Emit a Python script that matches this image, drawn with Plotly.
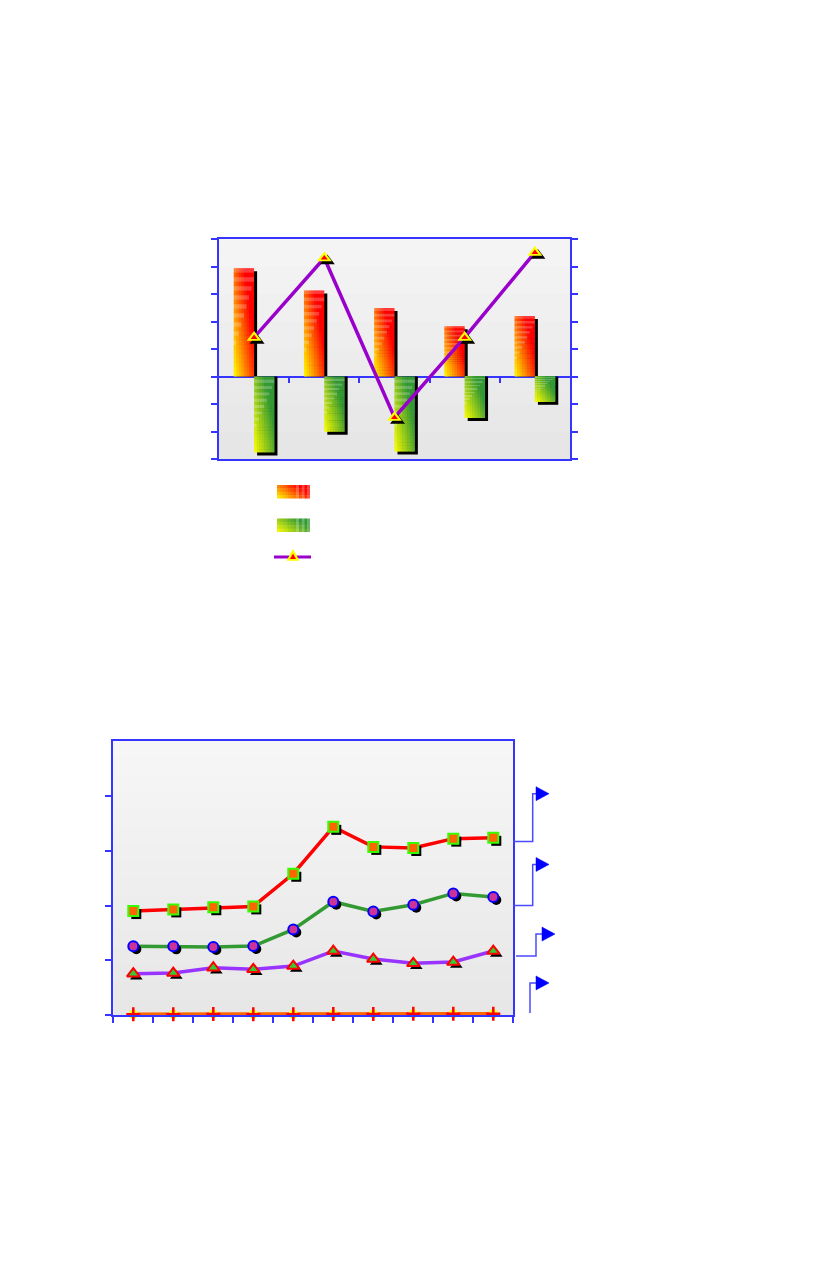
import plotly.graph_objects as go

W, H = 836, 1267

# ---------------- Chart 1 data ----------------
cats1 = [0, 1, 2, 3, 4]
pos_vals = [39.4, 31.3, 24.9, 18.3, 22.0]
neg_vals = [-27.6, -20.1, -27.3, -15.1, -9.2]
line_vals = [14.2, 43.1, -14.9, 14.2, 45.1]
y1_range = [-30, 50]

# ---------------- Chart 2 data ----------------
cats2 = list(range(10))
red_vals = [19.0, 19.3, 19.7, 19.85, 25.8, 34.35, 30.7, 30.5, 32.2, 32.35]
green_vals = [12.6, 12.57, 12.44, 12.62, 15.66, 20.7, 18.94, 20.15, 22.22, 21.55]
purple_vals = [7.58, 7.7, 8.67, 8.38, 8.98, 11.71, 10.25, 9.47, 9.71, 11.71]
orange_vals = [0.2, 0.2, 0.25, 0.2, 0.2, 0.25, 0.25, 0.3, 0.3, 0.3]
y2_range = [0, 50]
callout_from = [31.7, 20.0, 10.8, 0.4]
callout_to = [40.4, 27.5, 14.8, 5.9]

AX = "#3535ff"
SHIFT = 7  # page offset compensation


def px_x(p):
    return (p - SHIFT) / W


def px_y(p):
    return 1 - (p - SHIFT) / H


def mix(c1, c2, t):
    t = max(0.0, min(1.0, t))
    return tuple(a + (b - a) * t for a, b in zip(c1, c2))


def rgb(c):
    return "rgb(%d,%d,%d)" % tuple(round(v) for v in c)


YEL = (255, 255, 0)
RED = (255, 0, 0)
GRN = (51, 153, 51)
WHITE = (255, 255, 255)

x1dom = [px_x(218), px_x(569)]
y1dom = [px_y(458), px_y(238)]
x2dom = [px_x(112.3), px_x(512.3)]
y2dom = [px_y(1014.3), px_y(740)]

fig = go.Figure()

# ---------- Chart 1: bars ----------
BW = 0.29
OFF_POS = -0.29
OFF_NEG = 0.0
SX1 = 3 / 70.2
SY1 = 3 / 2.75
K, M = 8, 24

for vals, off in [(pos_vals, OFF_POS), (neg_vals, OFF_NEG)]:
    fig.add_bar(x=cats1, y=[v - SY1 for v in vals], base=0, offset=off + SX1, width=BW,
                marker=dict(color="black", line=dict(width=0)), xaxis="x", yaxis="y",
                hoverinfo="skip")

for vals, off, c_end, positive in [(pos_vals, OFF_POS, RED, True), (neg_vals, OFF_NEG, GRN, False)]:
    for i in range(K):
        xf = (i + 0.5) / K
        wd = BW / K * (1.25 if i < K - 1 else 1.0)
        for j in range(M):
            fr = (j + 0.5) / M
            yf = fr if positive else 1 - fr
            col = mix(YEL, c_end, 0.8 * xf + 0.6 * yf)
            if j % 2 == 1 and xf < (yf - 0.25) * 1.5:
                col = mix(col, WHITE, 0.22)
            scale = 1.15 if j < M - 1 else 1.0
            fig.add_bar(x=cats1, y=[v / M * scale for v in vals], base=[v * j / M for v in vals],
                        offset=off + i * BW / K, width=wd,
                        marker=dict(color=rgb(col), line=dict(width=0)), xaxis="x", yaxis="y",
                        hoverinfo="skip")

# ---------- Chart 1: line ----------
fig.add_scatter(x=cats1, y=line_vals, mode="lines", line=dict(color="#9900cc", width=3.5),
                xaxis="x", yaxis="y", hoverinfo="skip")
fig.add_scatter(x=[c + SX1 for c in cats1], y=[v - SY1 for v in line_vals], mode="markers",
                marker=dict(symbol="triangle-up", size=13, color="black"), xaxis="x", yaxis="y",
                cliponaxis=False, hoverinfo="skip")
fig.add_scatter(x=cats1, y=line_vals, mode="markers",
                marker=dict(symbol="triangle-up", size=13, color="#ffff00"), xaxis="x", yaxis="y",
                cliponaxis=False, hoverinfo="skip")
fig.add_scatter(x=cats1, y=line_vals, mode="markers",
                marker=dict(symbol="triangle-up", size=6, color="#ff0000"), xaxis="x", yaxis="y",
                cliponaxis=False, hoverinfo="skip")
# dummy trace for the zero-line tick axis
fig.add_scatter(x=[0], y=[0], mode="markers", marker=dict(opacity=0), xaxis="x3", yaxis="y",
                hoverinfo="skip")

# ---------- Chart 2 ----------
SX2 = 3 / 40
SY2 = 3 / 5.486
series2 = [
    (red_vals, "#ff0000", dict(symbol="square", size=10, color="#ff6600", line=dict(color="#33ff00", width=2))),
    (green_vals, "#339933", dict(symbol="circle", size=10, color="#cc3399", line=dict(color="#0000ff", width=2))),
    (purple_vals, "#9933ff", dict(symbol="triangle-up", size=11, color="#33cc33", line=dict(color="#ff0000", width=2))),
    (orange_vals, "#ff6600", dict(symbol="circle", size=9, color="#ffff00", line=dict(width=0))),
]
for vals, lc, mk in series2:
    fig.add_scatter(x=cats2, y=vals, mode="lines", line=dict(color=lc, width=3.5),
                    xaxis="x2", yaxis="y2", hoverinfo="skip", cliponaxis=False)
    fig.add_scatter(x=[c + SX2 for c in cats2], y=[v - SY2 for v in vals], mode="markers",
                    marker=dict(symbol=mk["symbol"], size=mk["size"], color="black"),
                    xaxis="x2", yaxis="y2", hoverinfo="skip", cliponaxis=False)
    fig.add_scatter(x=cats2, y=vals, mode="markers", marker=mk,
                    xaxis="x2", yaxis="y2", hoverinfo="skip", cliponaxis=False)
fig.add_scatter(x=cats2, y=orange_vals, mode="markers",
                marker=dict(symbol="cross-thin-open", size=10, color="#ff0000",
                            line=dict(color="#ff0000", width=2.5)),
                xaxis="x2", yaxis="y2", hoverinfo="skip", cliponaxis=False)

# ---------- shapes ----------
shapes = []
NB = 16
for xr, yr, top, bot in [("x domain", "y domain", 245, 229), ("x2 domain", "y2 domain", 246, 231)]:
    for k in range(NB):
        g = round(bot + (top - bot) * (k + 0.5) / NB)
        shapes.append(dict(type="rect", xref=xr, yref=yr, x0=0, x1=1, y0=k / NB, y1=(k + 1) / NB,
                           fillcolor="rgb(%d,%d,%d)" % (g, g, g), line=dict(width=0), layer="below"))

# callouts on chart 2
pxu = 1 / 400.0
unit = 1 / 5.486
callout_geom = [  # (start x px offset, elbow x px offset, arrow start px offset)
    (0, 19.4, 22.7),
    (0, 19.4, 22.7),
    (2.7, 22.7, 28.7),
    (None, 16.7, 22.7),
]
for (sx, ex, ax), yf, yt in zip(callout_geom, callout_from, callout_to):
    if sx is None:
        path = "M%f,%f L%f,%f L%f,%f" % (1 + ex * pxu, yf, 1 + ex * pxu, yt, 1 + ax * pxu, yt)
    else:
        path = "M%f,%f L%f,%f L%f,%f L%f,%f" % (1 + sx * pxu, yf, 1 + ex * pxu, yf,
                                                1 + ex * pxu, yt, 1 + ax * pxu, yt)
    shapes.append(dict(type="path", xref="x2 domain", yref="y2", path=path,
                       line=dict(color="#4a4aff", width=1.5)))
    tri = "M%f,%f L%f,%f L%f,%f Z" % (1 + ax * pxu, yt + 7 * unit, 1 + (ax + 13) * pxu, yt,
                                      1 + ax * pxu, yt - 7 * unit)
    shapes.append(dict(type="path", xref="x2 domain", yref="y2", path=tri,
                       fillcolor="#0000ff", line=dict(color="#0000ff", width=0.5)))


# legend swatches (chart 1)
def swatch(x0, y0, x1, y1, c_end):
    nc, nr = 12, 4
    for i in range(nc):
        for j in range(nr):
            xf = (i + 0.5) / nc
            yf = 1 - (j + 0.5) / nr
            col = mix(YEL, c_end, 0.85 * xf + 0.5 * yf)
            if i >= nc - 5 and i % 2 == 1:
                col = mix(col, WHITE, 0.25)
            xa = x0 + (x1 - x0) * i / nc
            xb = x0 + (x1 - x0) * (i + 1) / nc + 0.4
            ya = y0 + (y1 - y0) * j / nr
            yb = y0 + (y1 - y0) * (j + 1) / nr + 0.4
            shapes.append(dict(type="rect", xref="paper", yref="paper",
                               x0=px_x(xa), x1=px_x(min(xb, x1)), y0=px_y(ya), y1=px_y(min(yb, y1)),
                               fillcolor=rgb(col), line=dict(width=0)))


swatch(276, 484, 309, 497.5, RED)
swatch(276, 517.5, 309, 531, GRN)
shapes.append(dict(type="line", xref="paper", yref="paper", x0=px_x(273), x1=px_x(310),
                   y0=px_y(556), y1=px_y(556), line=dict(color="#9900cc", width=3)))


def tri_path(cx, cy, r):
    pts = [(cx - r, cy + r * 0.8), (cx, cy - r * 1.0), (cx + r, cy + r * 0.8)]
    return "M" + " L".join("%f,%f" % (px_x(a), px_y(b)) for a, b in pts) + " Z"


shapes.append(dict(type="path", xref="paper", yref="paper", path=tri_path(292, 554.5, 6.5),
                   fillcolor="#ffff00", line=dict(width=0)))
shapes.append(dict(type="path", xref="paper", yref="paper", path=tri_path(292, 555.5, 3),
                   fillcolor="#ff0000", line=dict(width=0)))

zero_pos = y1dom[0] + (0 - y1_range[0]) / (y1_range[1] - y1_range[0]) * (y1dom[1] - y1dom[0])

common = dict(showgrid=False, showticklabels=False, tickcolor=AX)
fig.update_layout(
    width=W, height=H, margin=dict(l=0, r=0, t=0, b=0),
    paper_bgcolor="white", plot_bgcolor="#eeeeee",
    showlegend=False, barmode="overlay", hovermode=False,
    shapes=shapes,
    xaxis=dict(domain=x1dom, anchor="y", range=[-0.5, 4.5], showline=True, linecolor=AX,
               linewidth=2, mirror=True, zeroline=False, ticks="", **common),
    yaxis=dict(domain=y1dom, anchor="x", range=y1_range, tickvals=list(range(-30, 51, 10)),
               ticks="outside", ticklen=6, tickwidth=2, showline=True, linecolor=AX, linewidth=2,
               mirror="ticks", zeroline=True, zerolinecolor=AX, zerolinewidth=2, **common),
    xaxis3=dict(overlaying="x", anchor="free", position=zero_pos, range=[-0.5, 4.5],
                tickvals=[0.5, 1.5, 2.5, 3.5], ticks="outside", ticklen=5, tickwidth=2,
                showline=False, zeroline=False, **common),
    xaxis2=dict(domain=x2dom, anchor="y2", range=[-0.5, 9.5], tickvals=[i - 0.5 for i in range(11)],
                ticks="outside", ticklen=6, tickwidth=1.5, showline=True, linecolor=AX, linewidth=2,
                mirror=True, zeroline=False, **common),
    yaxis2=dict(domain=y2dom, anchor="x2", range=y2_range, tickvals=[0, 10, 20, 30, 40],
                ticks="outside", ticklen=6, tickwidth=1.5, showline=True, linecolor=AX, linewidth=2,
                mirror=True, zeroline=False, **common),
)

fig.write_html("out.html")
